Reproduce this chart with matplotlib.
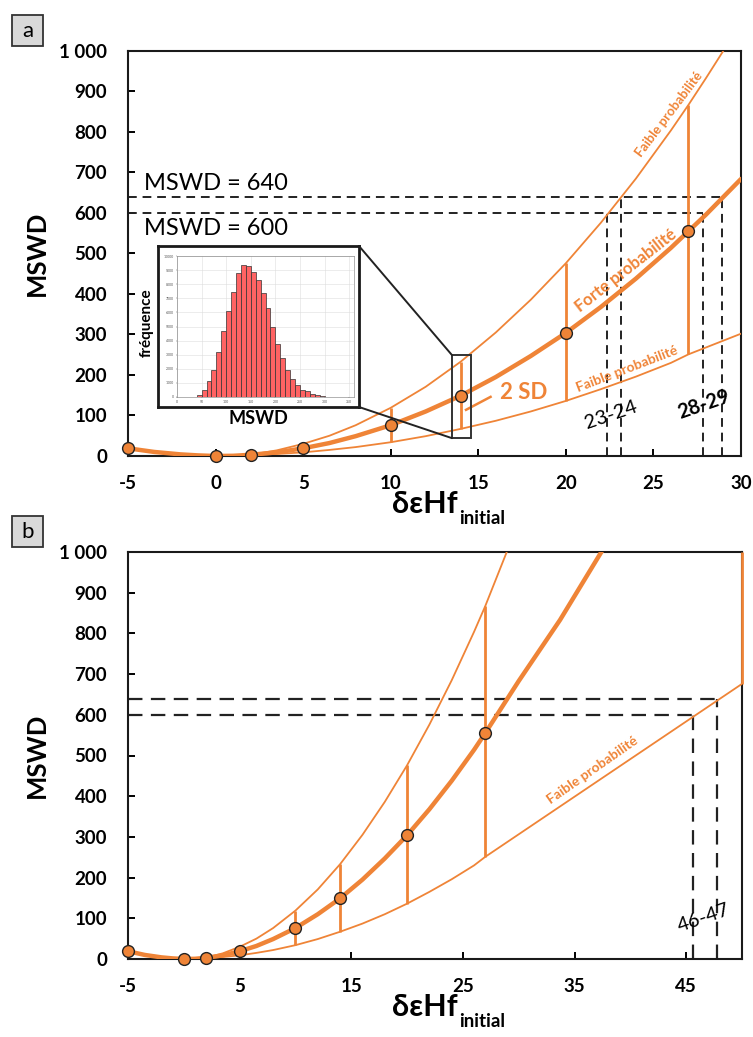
import matplotlib
matplotlib.use("Agg")
import matplotlib.pyplot as plt
from matplotlib.patches import Rectangle, ConnectionPatch

W, H = 753, 1037
ORANGE = '#EF8437'
plt.rcParams['font.family'] = ['Lato', 'DejaVu Sans']

# measured data points
pt_x = [-5, 0, 2, 5, 10, 14, 20, 27]
pt_y = [19, 0, 3, 19, 76, 149, 304, 555]

# error bars (2 SD)
bar_x = [10, 14, 20, 27]
bar_lo = [34, 67, 136, 251]
bar_hi = [119, 233, 476, 867]

# curves (panel a)
mid_x = [-5, -3.5, -2, -1, 0, 1, 2, 3.5, 5, 6.5, 8, 10, 12, 14, 16, 18, 20, 22, 24, 26, 27, 28, 30]
mid_y = [19, 10, 4, 1.5, 0, 0.5, 3, 9, 19, 32, 49, 76, 110, 149, 195, 247, 304, 368, 438, 514, 555, 596, 684]
up_x = [2, 3.5, 5, 6.5, 8, 10, 12, 14, 16, 18, 20, 22, 24, 26, 27, 28, 29.5]
up_y = [3, 14, 30, 50, 76, 119, 171, 233, 305, 386, 476, 576, 685, 804, 867, 933, 1035]
lo_x = [2, 3.5, 5, 6.5, 8, 10, 12, 14, 16, 18, 20, 22, 24, 26, 27, 28, 30]
lo_y = [3, 5, 9, 15, 22, 34, 49, 67, 87, 110, 136, 165, 196, 230, 251, 268, 302]

# panel b: same up to 27, different tails
mid_b_x = mid_x[:-2] + [30, 33.7, 37.4, 40]
mid_b_y = mid_y[:-2] + [683, 833, 1000, 1120]
up_b_x = up_x[:-2] + [29, 31]
up_b_y = up_y[:-2] + [1005, 1145]
lo_b_x = lo_x[:-2] + [50]
lo_b_y = lo_y[:-2] + [676]
bar_b_x = bar_x + [50]
bar_b_lo = bar_lo + [676]
bar_b_hi = bar_hi + [1000]

# MSWD thresholds and crossings
thr = [600, 640]
cross_a = [[22.36, 27.84], [23.15, 28.92]]
cross_b = [45.65, 47.8]

# inset histogram
hist_edges = list(range(30, 320, 10))
hist_counts = [30, 160, 520, 1100, 1930, 3220, 4710, 6120, 7470, 8770, 9360, 9300, 8860,
               8290, 7400, 6310, 4950, 3750, 2780, 1930, 1270, 870, 520, 400, 235, 160, 80, 30, 15]

yticks = [0, 100, 200, 300, 400, 500, 600, 700, 800, 900, 1000]
ylabels = ['0', '100', '200', '300', '400', '500', '600', '700', '800', '900', '1 000']
xticks_a = [-5, 0, 5, 10, 15, 20, 25, 30]
xticks_b = [-5, 5, 15, 25, 35, 45]


def box(l, t, r, b):
    return [l / W, 1 - b / H, (r - l) / W, (b - t) / H]


def style(ax, xlim, xticks):
    ax.set_xlim(*xlim)
    ax.set_ylim(0, 1000)
    ax.set_xticks(xticks)
    ax.set_xticklabels([str(t) for t in xticks])
    ax.set_yticks(yticks)
    ax.set_yticklabels(ylabels)
    for s in ax.spines.values():
        s.set_linewidth(1.5)
        s.set_color('#1a1a1a')
    ax.tick_params(direction='in', length=5, width=1.4, pad=15, labelsize=13.5)
    ax.tick_params(axis='x', pad=14)
    for lab in ax.get_xticklabels() + ax.get_yticklabels():
        lab.set_fontweight('bold')


def curves(ax, mx, my, ux, uy, lx, ly, bx, blo, bhi):
    ax.plot(ux, uy, color=ORANGE, lw=1.3, zorder=3)
    ax.plot(lx, ly, color=ORANGE, lw=1.3, zorder=3)
    ax.vlines(bx, blo, bhi, color=ORANGE, lw=2, zorder=3, clip_on=False)
    ax.plot(mx, my, color=ORANGE, lw=3.2, zorder=4, solid_capstyle='round')
    ax.plot(pt_x, pt_y, 'o', ms=8.5, mfc=ORANGE, mec='#222222', mew=1, zorder=6, clip_on=False)


fig = plt.figure(figsize=(W / 100, H / 100), dpi=100)

# ---------------- panel a
axa = fig.add_axes(box(128, 51, 741, 456))
style(axa, (-5, 30), xticks_a)
curves(axa, mid_x, mid_y, up_x, up_y, lo_x, lo_y, bar_x, bar_lo, bar_hi)
dash_a = dict(color='#222222', lw=1.4, ls=(0, (4.5, 3)), zorder=2)
for t, cx in zip(thr, cross_a):
    axa.plot([-5, cx[1]], [t, t], **dash_a)
    for c in cx:
        axa.plot([c, c], [0, t], **dash_a)

axa.text(-4.1, 647, 'MSWD = 640', fontsize=17, ha='left', va='bottom')
axa.text(-4.1, 588, 'MSWD = 600', fontsize=17, ha='left', va='top')
lbl = dict(color=ORANGE, weight='bold', ha='center', va='center', rotation_mode='anchor')
axa.text(25.9, 844, 'Faible probabilité', fontsize=9.5, rotation=53, **lbl)
axa.text(23.4, 457, 'Forte probabilité', fontsize=12, rotation=38, **lbl)
axa.text(23.5, 215, 'Faible probabilité', fontsize=10, rotation=21, **lbl)
axa.text(17.6, 158, '2 SD', fontsize=16, **lbl)
axa.plot([14.3, 15.7], [114, 146], color=ORANGE, lw=1.8, zorder=4)
axa.text(22.6, 101, '23-24', fontsize=14.5, ha='center', va='center',
         rotation=19, rotation_mode='anchor')
axa.text(27.9, 126, '28-29', fontsize=14.5, weight='bold', ha='center', va='center',
         rotation=19, rotation_mode='anchor')

axa.add_patch(Rectangle((13.5, 44), 1.1, 205, fill=False, ec='#333333', lw=1.4, zorder=5))

# inset
frame = fig.add_axes(box(158, 246, 359, 407))
frame.set_xticks([])
frame.set_yticks([])
for s in frame.spines.values():
    s.set_linewidth(2)
    s.set_color('#1a1a1a')
axin = fig.add_axes(box(177, 256, 354, 397))
axin.bar(hist_edges, hist_counts, width=10, align='edge', color='#FF6363',
         edgecolor='#333333', lw=0.5, zorder=3)
axin.set_xlim(0, 360)
axin.set_ylim(0, 10000)
axin.set_xticks(range(0, 351, 50))
axin.set_yticks(range(0, 10001, 1000))
axin.grid(True, color='#dddddd', lw=0.4)
axin.tick_params(labelsize=2.5, length=1, width=0.3, pad=1, colors='#555555')
for s in axin.spines.values():
    s.set_linewidth(0.4)
    s.set_color('#777777')
fig.text(147 / W, 1 - 323 / H, 'fréquence', rotation=90, fontsize=11, weight='bold',
         ha='center', va='center')
fig.text(258 / W, 1 - 419 / H, 'MSWD', fontsize=13, weight='bold', ha='center', va='center')
for ya, yb in [(1, 249), (0, 44)]:
    cp = ConnectionPatch(xyA=(1, ya), coordsA=frame.transAxes, xyB=(13.5, yb),
                         coordsB=axa.transData, color='#222222', lw=1.4)
    fig.add_artist(cp)

# ---------------- panel b
axb = fig.add_axes(box(128, 552, 742, 959))
style(axb, (-5, 50), xticks_b)
curves(axb, mid_b_x, mid_b_y, up_b_x, up_b_y, lo_b_x, lo_b_y, bar_b_x, bar_b_lo, bar_b_hi)
dash_b = dict(color='#222222', lw=1.6, ls=(0, (6.5, 3.8)), zorder=2)
for t, c in zip(thr, cross_b):
    axb.plot([-5, c], [t, t], **dash_b)
    axb.plot([c, c], [0, t], **dash_b)
axb.text(36.65, 464, 'Faible probabilité', fontsize=10, rotation=35, **lbl)
axb.text(46.6, 101, '46-47', fontsize=14.5, ha='center', va='center',
         rotation=19, rotation_mode='anchor')

# axis titles and panel tags
for ytop, ybot, tag in [(51, 456, 'a'), (552, 959, 'b')]:
    fig.text(37 / W, 1 - (ytop + ybot) / 2 / H, 'MSWD', rotation=90, fontsize=18.5,
             weight='bold', ha='center', va='center')
    fig.text(458 / W, 1 - (ybot + 57) / H, 'δεHf', fontsize=22, weight='bold',
             ha='right', va='baseline')
    fig.text(459 / W, 1 - (ybot + 68) / H, 'initial', fontsize=13.5, weight='bold',
             ha='left', va='baseline')
    y0 = ytop - 36
    fig.add_artist(Rectangle((12 / W, 1 - (y0 + 31) / H), 31 / W, 31 / H,
                             transform=fig.transFigure, fc='#d9d9d9', ec='#333333', lw=1.3))
    fig.text(27.5 / W, 1 - (y0 + 16) / H, tag, fontsize=16, ha='center', va='center')

fig.savefig('out.png', dpi=100)
